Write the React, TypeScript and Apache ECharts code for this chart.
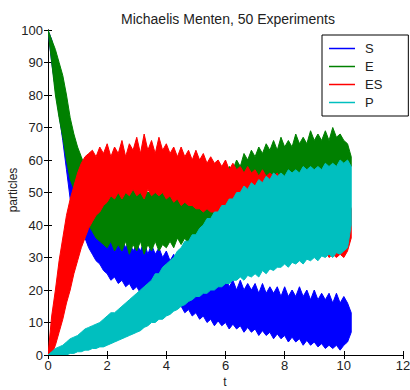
import React, { useEffect, useRef } from "react";
import * as echarts from "echarts";

// time samples (t), every 0.125
const T = [
  0, 0.125, 0.25, 0.375, 0.5, 0.625, 0.75, 0.875,
  1, 1.125, 1.25, 1.375, 1.5, 1.625, 1.75, 1.875,
  2, 2.125, 2.25, 2.375, 2.5, 2.625, 2.75, 2.875,
  3, 3.125, 3.25, 3.375, 3.5, 3.625, 3.75, 3.875,
  4, 4.125, 4.25, 4.375, 4.5, 4.625, 4.75, 4.875,
  5, 5.125, 5.25, 5.375, 5.5, 5.625, 5.75, 5.875,
  6, 6.125, 6.25, 6.375, 6.5, 6.625, 6.75, 6.875,
  7, 7.125, 7.25, 7.375, 7.5, 7.625, 7.75, 7.875,
  8, 8.125, 8.25, 8.375, 8.5, 8.625, 8.75, 8.875,
  9, 9.125, 9.25, 9.375, 9.5, 9.625, 9.75, 9.875,
  10, 10.125, 10.25,
];

// upper / lower edges of each noisy band (50 experiments overlaid)
const S_HI = [
  100, 97, 92, 87, 82, 75, 68, 63,
  58, 54, 50, 47, 44, 42, 40, 39,
  38, 35, 37, 34, 36, 33, 35, 32,
  34, 32, 35, 31, 34, 31, 33, 30,
  32, 29, 31, 28, 29, 26, 27, 24,
  25, 23, 24, 22, 24, 21, 23, 21,
  24, 21, 23, 20, 23, 20, 22, 20,
  22, 19, 22, 19, 21, 19, 21, 18,
  21, 18, 20, 18, 21, 18, 20, 17,
  20, 17, 19, 17, 19, 16, 19, 16,
  18, 16, 13,
];
const S_LO = [
  100, 90, 82, 74, 66, 57, 48, 45,
  42, 39, 36, 33, 31, 29, 28, 26,
  25, 23, 24, 22, 23, 21, 22, 20,
  21, 19, 21, 19, 21, 19, 20, 18,
  19, 17, 17, 15, 15, 13, 14, 12,
  13, 11, 12, 10, 11, 9, 10.5, 9,
  10, 8, 9.5, 8, 9, 7, 8.5, 7,
  8, 6, 7.5, 6, 7, 5, 6.5, 5,
  6, 4, 5.5, 4, 5, 3, 4.5, 3,
  4, 2.5, 3.5, 2, 3, 2, 3, 1.5,
  3, 4, 7,
];

const E_HI = [
  100, 97, 94, 90, 86, 80, 73, 68,
  64, 61, 58, 56, 54, 53, 52, 51,
  50, 51, 50, 50, 51, 50, 50, 51,
  50, 50, 51, 50, 50, 51, 50, 50,
  51, 50, 50, 51, 50, 50, 51, 50,
  51, 52, 52, 54, 53, 55, 54, 57,
  55, 58, 57, 60, 58, 62, 60, 63,
  61, 64, 62, 65, 63, 66, 63, 67,
  64, 66, 64, 68, 65, 67, 65, 69,
  66, 68, 66, 69, 66, 70, 67, 68,
  66, 65, 61,
];
const E_LO = [
  100, 90, 80, 73, 67, 60, 54, 51,
  49, 46, 43, 40, 38, 36, 35, 34,
  33, 35, 32, 34, 32, 35, 31, 34,
  32, 35, 31, 34, 32, 35, 32, 34,
  33, 35, 33, 36, 34, 36, 34, 37,
  35, 37, 36, 39, 37, 40, 38, 41,
  40, 42, 41, 44, 43, 45, 45, 47,
  46, 48, 47, 49, 48, 50, 49, 51,
  50, 52, 51, 53, 52, 53, 52, 54,
  53, 54, 53, 55, 54, 55, 54, 56,
  55, 57, 58,
];

const ES_HI = [
  0, 12, 20, 29, 36, 43, 48, 52,
  56, 59, 61, 62, 63, 61, 64, 62,
  65, 61, 64, 62, 66, 61, 65, 63,
  67, 62, 68, 63, 66, 62, 67, 63,
  65, 62, 64, 61, 64, 61, 63, 60,
  63, 60, 62, 59, 61, 59, 60, 58,
  60, 57, 59, 57, 58, 56, 58, 56,
  57, 55, 57, 55, 56, 55, 56, 54,
  55, 54, 55, 53, 54, 52, 53, 52,
  53, 51, 52, 50, 51, 50, 51, 49,
  50, 48, 45,
];
const ES_LO = [
  0, 0, 3, 7, 11, 16, 20, 25,
  29, 33, 36, 39, 41, 43, 44, 46,
  47, 49, 48, 50, 48, 50, 49, 51,
  49, 50, 48, 51, 49, 50, 49, 50,
  48, 49, 47, 48, 46, 47, 46, 46,
  45, 45, 44, 45, 44, 44, 43, 44,
  43, 43, 42, 42, 41, 42, 41, 41,
  40, 40, 39, 39, 38, 38, 37, 37,
  36, 36, 35, 35, 34, 34, 33, 33,
  32, 32, 31, 32, 30, 31, 30, 31,
  30, 32, 36,
];

const P_HI = [
  0, 1, 2, 2.5, 3, 4, 5, 5.5,
  6, 7, 8, 8.5, 9, 9.5, 10, 11,
  12, 13, 13, 14, 15, 16, 17, 18,
  19, 20, 21, 22, 23, 25, 25, 27,
  28, 29, 30, 32, 33, 35, 35, 37,
  37, 39, 40, 42, 42, 44, 44, 46,
  46, 48, 48, 50, 50, 52, 51, 53,
  52, 54, 53, 55, 54, 56, 55, 56,
  55, 57, 56, 57, 56, 58, 57, 58,
  57, 58, 57, 59, 58, 59, 58, 60,
  59, 60, 58,
];
const P_LO = [
  0, 0, 0, 0, 0, 0, 0.5, 0.5,
  1, 1, 1.5, 1.5, 2, 2, 2.5, 2.5,
  3, 3.5, 4, 4.5, 5, 5.5, 6, 6.5,
  7, 7.5, 8.5, 9, 10, 10, 11, 11,
  12, 12.5, 13.5, 14, 15, 15.5, 16.5, 17,
  18, 18, 19, 19, 20, 20, 21, 21,
  22, 22, 23, 23, 24, 23, 24.5, 24,
  25, 24, 26, 25, 26.5, 26, 27, 27,
  28, 27, 28.5, 28, 29, 28, 29.5, 29,
  30, 29, 30.5, 30, 31, 30, 31.5, 31,
  32, 33, 40,
];

const NAMES = ["S", "E", "ES", "P"];
const COLORS = ["#0000ff", "#008000", "#ff0000", "#00bfbf"];
const BANDS = [
  [S_LO, S_HI],
  [E_LO, E_HI],
  [ES_LO, ES_HI],
  [P_LO, P_HI],
];

const X_TICKS = { min: 0, max: 12, interval: 2 };
const Y_TICKS = { min: 0, max: 100, interval: 10 };

const TITLE = "Michaelis Menten, 50 Experiments";
const X_NAME = "t";
const Y_NAME = "particles";

export default function App() {
  const ref = useRef<HTMLDivElement>(null);
  useEffect(() => {
    if (!ref.current) return;
    const chart = echarts.init(ref.current, undefined, { renderer: "svg" });
    const font = "Liberation Sans, Arial, sans-serif";
    const series: any[] = BANDS.map(([lo, hi], k) => ({
      type: "custom",
      name: NAMES[k],
      coordinateSystem: "cartesian2d",
      data: [[0, 0]],
      z: 2 + k,
      clip: true,
      renderItem: (params: any, api: any) => {
        const pts: number[][] = [];
        for (let i = 0; i < T.length; i++) pts.push(api.coord([T[i], hi[i]]));
        for (let i = T.length - 1; i >= 0; i--) pts.push(api.coord([T[i], lo[i]]));
        return {
          type: "polygon",
          shape: { points: pts },
          style: { fill: COLORS[k], stroke: COLORS[k], lineWidth: 1 },
        };
      },
    }));
    const axisCommon = {
      axisLine: { show: true, lineStyle: { color: "#000", width: 1 } },
      axisTick: { show: true, inside: true, length: 4, lineStyle: { color: "#000" } },
      splitLine: { show: false },
    };
    chart.setOption({
      animation: false,
      backgroundColor: "#fff",
      title: {
        text: TITLE,
        left: 223,
        textAlign: "center",
        top: 7,
        textStyle: { fontFamily: font, fontSize: 14, fontWeight: "normal", color: "#222" },
      },
      legend: {
        data: NAMES.map((n, i) => ({ name: n, itemStyle: { color: COLORS[i] } })),
        orient: "vertical",
        left: 322,
        top: 35,
        padding: [7, 26, 7, 7],
        icon: "rect",
        itemWidth: 26,
        itemHeight: 1.5,
        itemGap: 5,
        borderColor: "#000",
        borderWidth: 1,
        backgroundColor: "#fff",
        textStyle: { fontFamily: font, fontSize: 13, color: "#222", padding: [0, 0, 0, 5] },
        selectedMode: false,
      },
      graphic: [
        {
          type: "text",
          x: 13,
          y: 190,
          rotation: Math.PI / 2,
          style: {
            text: Y_NAME,
            fill: "#222",
            font: "12px Liberation Sans, Arial, sans-serif",
            align: "center",
            verticalAlign: "middle",
          },
        },
        {
          type: "text",
          x: 225,
          y: 382,
          style: {
            text: X_NAME,
            fill: "#222",
            font: "12px Liberation Sans, Arial, sans-serif",
            align: "center",
            verticalAlign: "middle",
          },
        },
      ],
      grid: { left: 48, right: 7, top: 30, bottom: 35, containLabel: false, outerBoundsMode: "none" },
      xAxis: [
        {
          type: "value",
          ...X_TICKS,
          position: "bottom",
          ...axisCommon,
          axisLabel: { color: "#222", fontFamily: font, fontSize: 13, margin: 4 },
        },
        {
          type: "value",
          ...X_TICKS,
          position: "top",
          ...axisCommon,
          axisLabel: { show: false },
        },
      ],
      yAxis: [
        {
          type: "value",
          ...Y_TICKS,
          position: "left",
          ...axisCommon,
          axisLabel: { color: "#222", fontFamily: font, fontSize: 13, margin: 5 },
        },
        {
          type: "value",
          ...Y_TICKS,
          position: "right",
          ...axisCommon,
          axisLabel: { show: false },
        },
      ],
      series,
    });
    return () => chart.dispose();
  }, []);
  return <div ref={ref} style={{ width: 410, height: 390, position: "absolute", left: 0, top: 0 }} />;
}
